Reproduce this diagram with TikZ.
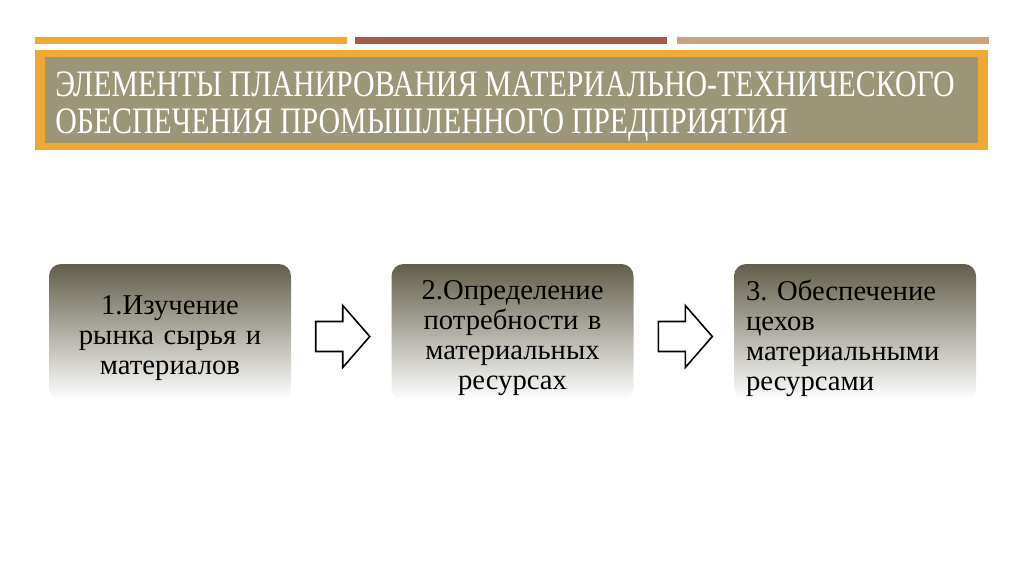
\documentclass[tikz,border=0pt]{standalone}
\usepackage{fontspec}
\setmainfont{Liberation Serif}
\newfontfamily\titlefont[FakeStretch=0.8]{Liberation Serif}
\usetikzlibrary{calc, positioning}

\definecolor{barOrange}{HTML}{F0A834}
\definecolor{barBrown}{HTML}{A25B4B}
\definecolor{barTan}{HTML}{C9A37B}
\definecolor{titleGrey}{HTML}{9C9679}
\definecolor{stageTop}{HTML}{625E4A}
\definecolor{stageMid}{HTML}{BAB6A5}

\begin{document}
\frenchspacing
\begin{tikzpicture}[x=0.75pt, y=-0.75pt]
\def\px{0.75pt}
\tikzset{
  stage/.style={rectangle, rounded corners=12*\px, minimum width=242*\px, minimum height=136*\px,
    top color=stageTop, middle color=stageMid, bottom color=white, inner sep=0pt},
  stagetext/.style={font=\fontsize{21.5}{22.5}\selectfont, inner sep=0pt, text width=230*\px},
  flowarrow/.pic={
    \draw[line width=1.2pt, fill=white, line join=miter]
      (-27,-15) -- (0,-15) -- (0,-31) -- (27,0) -- (0,31) -- (0,15) -- (-27,15) -- cycle;
  }
}
\useasboundingbox (0,0) rectangle (1024,574);

%bars on top
\foreach \xx/\cc in {35/barOrange, 355/barBrown, 677/barTan}
  \fill[\cc] (\xx,37) rectangle ++(312,7);

%title frame
\fill[barOrange] (35,50) rectangle (988,150);
\fill[titleGrey] (45,57) rectangle (978,143);
\node[anchor=base west, inner sep=0pt, align=left, text=white,
  font=\titlefont\fontsize{28}{27.75}\selectfont] (title) at (55,134)
  {ЭЛЕМЕНТЫ ПЛАНИРОВАНИЯ МАТЕРИАЛЬНО-ТЕХНИЧЕСКОГО\\ОБЕСПЕЧЕНИЯ ПРОМЫШЛЕННОГО ПРЕДПРИЯТИЯ};

%stages
\node[stage] (box1) at (170,332) {};
\node[stage, right=100*\px of box1] (box2) {};
\node[stage, right=100*\px of box2] (box3) {};

\node[stagetext, align=center] (text1) at ($(box1.center)+(0,6)$)
  {1.Изучение\\рынка сырья и\\материалов};
\node[stagetext, align=center] (text2) at ($(box2.center)+(0,6)$)
  {2.Определение\\потребности в\\материальных\\ресурсах};
\node[stagetext, align=left, anchor=west] (text3) at ($(box3.west)+(12,6)$)
  {3. Обеспечение\\цехов\\материальными\\ресурсами};

%arrows
\coordinate (arr1) at ($($(box1.east)!0.5!(box2.west)$)+(1.5,4.5)$);
\coordinate (arr2) at ($($(box2.east)!0.5!(box3.west)$)+(1.5,4.5)$);
\pic at (arr1) {flowarrow};
\pic at (arr2) {flowarrow};

\end{tikzpicture}
\end{document}
